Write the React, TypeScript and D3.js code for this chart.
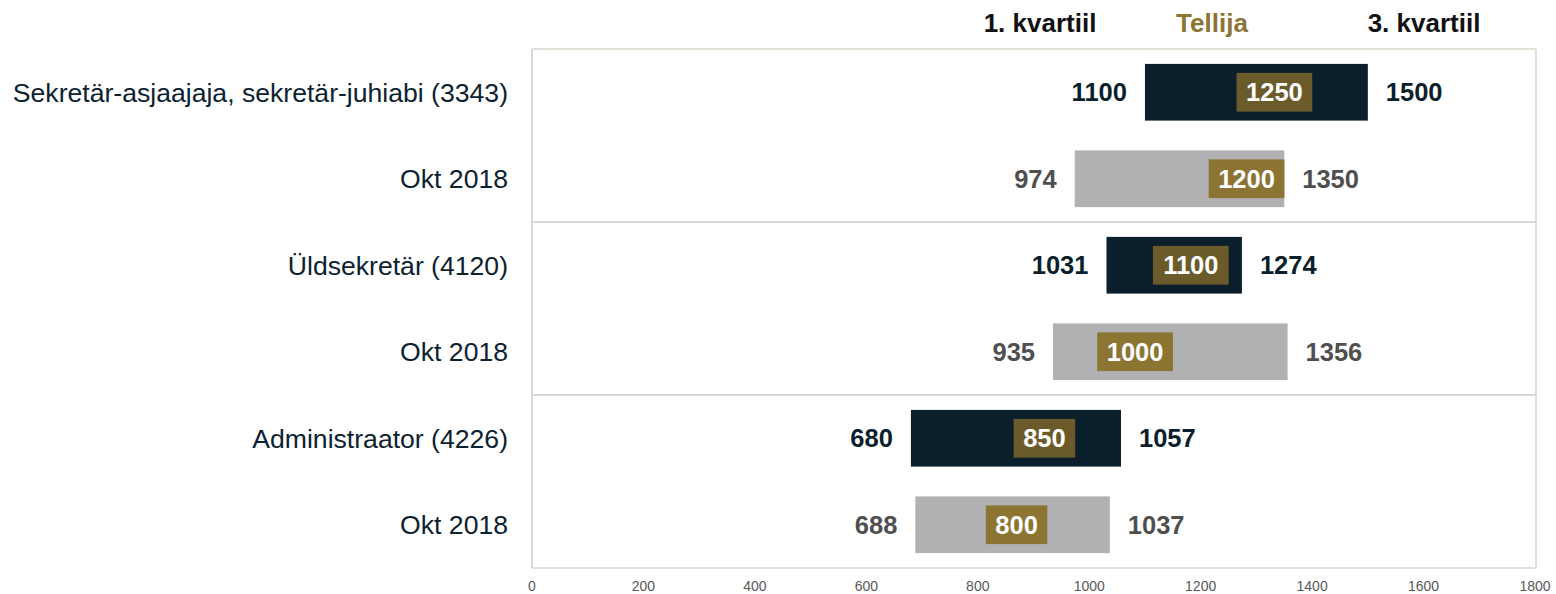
import React from "react";
import * as d3 from "d3";

const categories = [
  "Sekretär-asjaajaja, sekretär-juhiabi (3343)",
  "Okt 2018",
  "Üldsekretär (4120)",
  "Okt 2018",
  "Administraator (4226)",
  "Okt 2018",
];
const isCurrent = [true, false, true, false, true, false];
const q1Values = [1100, 974, 1031, 935, 680, 688];
const medianValues = [1250, 1200, 1100, 1000, 850, 800];
const q3Values = [1500, 1350, 1274, 1356, 1057, 1037];
const tickValues = [0, 200, 400, 600, 800, 1000, 1200, 1400, 1600, 1800];
const legendLabels = ["1. kvartiil", "Tellija", "3. kvartiil"];

const W = 1556;
const H = 594;
const FONT = "'Liberation Sans', Arial, sans-serif";
const VAL_FS = 25.5;

const DARK = "#0a1f2b";
const GRAY = "#b1b1b3";
const GOLD_DARK = "#6b5a2a";
const GOLD_LIGHT = "#8c7433";
const GRAY_TEXT = "#4f4f4f";

export default function App() {
  const x = d3.scaleLinear().domain([0, 1800]).range([532, 1535]);
  const y = d3
    .scaleBand<number>()
    .domain(categories.map((_, i) => i))
    .range([49, 568])
    .paddingInner(0)
    .paddingOuter(0);
  const bw = y.bandwidth();
  const barH = 56.7;
  const boxH = 38.7;
  const plotL = 532;
  const plotR = 1536;
  const plotT = 49;
  const plotB = 568;

  return (
    <svg
      width={W}
      height={H}
      style={{ position: "absolute", left: 0, top: 0, background: "#fff" }}
      fontFamily={FONT}
    >
      {/* legend */}
      <text x={1040} y={32} textAnchor="middle" fontSize={26} fontWeight="bold" fill="#111">
        {legendLabels[0]}
      </text>
      <text x={1212} y={32} textAnchor="middle" fontSize={26} fontWeight="bold" fill={GOLD_LIGHT}>
        {legendLabels[1]}
      </text>
      <text x={1424} y={32} textAnchor="middle" fontSize={26} fontWeight="bold" fill="#111">
        {legendLabels[2]}
      </text>

      {/* plot frame */}
      <line x1={plotL} x2={plotR} y1={plotT} y2={plotT} stroke="#e3e0d8" strokeWidth={2} />
      <line x1={plotR} x2={plotR} y1={plotT} y2={plotB} stroke="#e3e0d8" strokeWidth={2} />
      <line x1={plotL} x2={plotR} y1={plotB} y2={plotB} stroke="#e3e0d8" strokeWidth={2} />
      <line x1={plotL} x2={plotL} y1={plotT} y2={plotB} stroke="#d9d9d9" strokeWidth={2} />
      {[2, 4].map((i) => (
        <line
          key={i}
          x1={plotL}
          x2={plotR}
          y1={y(i)!}
          y2={y(i)!}
          stroke="#d9d9d9"
          strokeWidth={2}
        />
      ))}

      {/* rows */}
      {categories.map((c, i) => {
        const cy = y(i)! + bw / 2;
        const cur = isCurrent[i];
        const x0 = x(q1Values[i]);
        const x1 = x(q3Values[i]);
        const xm = x(medianValues[i]);
        const mText = String(medianValues[i]);
        const boxW = mText.length * 0.556 * VAL_FS + 19;
        const valColor = cur ? DARK : GRAY_TEXT;
        return (
          <g key={i}>
            <text
              x={508}
              y={cy}
              dy="0.35em"
              textAnchor="end"
              fontSize={26.6}
              fill="#0d2230"
            >
              {c}
            </text>
            <rect x={x0} y={cy - barH / 2} width={x1 - x0} height={barH} fill={cur ? DARK : GRAY} />
            <rect
              x={xm + 8}
              y={cy - boxH / 2}
              width={boxW}
              height={boxH}
              fill={cur ? GOLD_DARK : GOLD_LIGHT}
            />
            <text
              x={xm + 8 + boxW / 2}
              y={cy}
              dy="0.36em"
              textAnchor="middle"
              fontSize={VAL_FS}
              fontWeight="bold"
              fill="#fff"
            >
              {mText}
            </text>
            <text
              x={x0 - 18}
              y={cy}
              dy="0.36em"
              textAnchor="end"
              fontSize={VAL_FS}
              fontWeight="bold"
              fill={valColor}
            >
              {q1Values[i]}
            </text>
            <text
              x={x1 + 18}
              y={cy}
              dy="0.36em"
              textAnchor="start"
              fontSize={VAL_FS}
              fontWeight="bold"
              fill={valColor}
            >
              {q3Values[i]}
            </text>
          </g>
        );
      })}

      {/* x tick labels */}
      {tickValues.map((t) => (
        <text key={t} x={x(t)} y={591} textAnchor="middle" fontSize={14} fill="#595959">
          {t}
        </text>
      ))}
    </svg>
  );
}
